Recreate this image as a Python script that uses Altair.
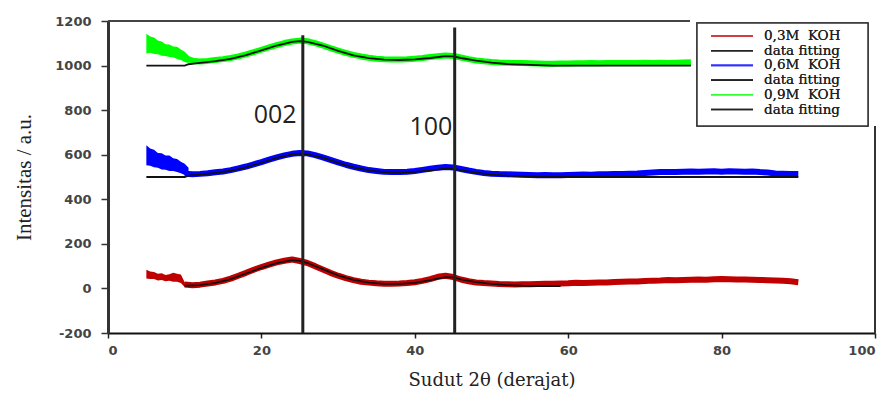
import altair as alt
import pandas as pd

# ---------------- data ----------------
series_names = ["0,3M KOH", "0,6M KOH", "0,9M KOH"]
series_colors = ["#c00000", "#0000ff", "#00ff00"]

# measured patterns (centre of the noisy band), 2theta in degrees
red_x = list(range(10, 91))
red_y = [18, 14, 17, 22, 27, 34, 44, 57, 70, 84, 96, 107, 117, 124, 130, 123, 114, 100, 85, 70,
         57, 46, 37, 30, 26, 23, 21, 21, 22, 24, 28, 34, 42, 52, 57, 51, 40, 32, 27, 24,
         22, 20, 19, 18, 19, 19, 20, 21, 21, 22, 23, 25, 24, 26, 27, 27, 29, 30, 31, 31,
         33, 35, 36, 38, 37, 38, 39, 40, 39, 41, 42, 41, 40, 40, 39, 38, 37, 36, 34, 32, 28]

blue_x = list(range(10, 91))
blue_y = [515, 512, 514, 517, 521, 525, 531, 539, 547, 557, 567, 578, 588, 597, 604, 608, 606, 598, 588, 577,
          566, 555, 546, 538, 531, 527, 523, 522, 522, 524, 527, 532, 537, 542, 545, 543, 536, 529, 523, 518,
          515, 513, 512, 511, 510, 509, 508, 509, 508, 508, 509, 510, 511, 510, 512, 512, 513, 514, 515, 516,
          518, 520, 522, 523, 522, 524, 525, 524, 525, 526, 524, 526, 525, 524, 525, 522, 520, 516, 515, 514, 514]

green_x = list(range(10, 77))
green_y = [1035, 1022, 1018, 1021, 1025, 1029, 1034, 1041, 1050, 1060, 1071, 1082, 1092, 1101, 1108, 1112,
           1109, 1101, 1090, 1078, 1067, 1057, 1048, 1041, 1035, 1031, 1028, 1027, 1027, 1028, 1031, 1034,
           1038, 1042, 1045, 1043, 1036, 1029, 1023, 1019, 1016, 1014, 1013, 1012, 1011, 1010, 1009, 1008,
           1008, 1009, 1009, 1010, 1010, 1011, 1010, 1011, 1012, 1011, 1012, 1012, 1013, 1012, 1013, 1012,
           1013, 1014, 1015]

# wide noisy band at the low-angle start (upper / lower envelope)
start_x = [5, 5.5, 6, 6.5, 7, 7.5, 8, 8.5, 9, 9.5, 10, 10.5]
green_hi = [1143, 1130, 1126, 1112, 1108, 1096, 1095, 1086, 1084, 1072, 1062, 1045]
green_lo = [1054, 1058, 1052, 1051, 1044, 1043, 1038, 1037, 1030, 1025, 1016, 1010]
blue_hi = [643, 628, 622, 608, 607, 597, 596, 584, 581, 568, 560, 542]
blue_lo = [553, 551, 544, 541, 534, 532, 527, 527, 522, 517, 509, 506]
red_hi = [84, 76, 74, 66, 68, 60, 64, 70, 66, 62, 28, 22]
red_lo = [45, 42, 42, 36, 38, 32, 34, 30, 30, 24, 6, 6]

# data fitting curves
fit_gx = [5, 10, 10.5, 12, 14, 16, 18, 20, 22, 24, 25, 26, 28, 30, 32, 34, 36, 38, 40, 42, 44, 45,
          46, 48, 50, 52, 54, 56, 58, 60, 76]
fit_gy = [1000, 1000, 1006, 1012, 1020, 1030, 1047, 1068, 1090, 1106, 1110, 1106, 1090, 1066, 1046,
          1033, 1027, 1025, 1028, 1034, 1042, 1041, 1034, 1022, 1013, 1007, 1004, 1002, 1000, 1000, 1000]
fit_bx = [5, 10, 10.5, 12, 14, 16, 18, 20, 22, 24, 25, 26, 28, 30, 32, 34, 36, 38, 40, 42, 44, 45,
          46, 48, 50, 52, 54, 56, 58, 60, 90]
fit_by = [500, 500, 506, 511, 518, 528, 543, 564, 586, 601, 605, 602, 587, 563, 543, 530, 522, 520,
          523, 530, 538, 538, 531, 519, 511, 506, 503, 501, 500, 500, 500]
fit_rx = [10, 12, 14, 16, 18, 20, 22, 24, 25, 26, 28, 30, 32, 34, 36, 38, 40, 42, 44, 45, 46, 48,
          50, 52, 54, 56, 59]
fit_ry = [12, 15, 25, 42, 67, 92, 114, 127, 124, 114, 87, 59, 38, 26, 20, 20, 25, 37, 51, 50, 41,
          28, 20, 15, 12, 11, 10]

# peak markers
peak_pos = [25.4, 45.2]
peak_top = [1136, 1171]
peak_labels = ["002", "100"]
label_x = [21.8, 42.1]
label_y = [742, 688]

NB = "\u00a0"
legend_labels = ["0,3M" + NB + NB + "KOH", "data fitting", "0,6M" + NB + NB + "KOH", "data fitting",
                 "0,9M" + NB + NB + "KOH", "data fitting"]
legend_colors = ["#d03030", "#222222", "#3030ff", "#222222", "#30ff30", "#222222"]

# ---------------- tables ----------------
main_df = pd.concat([
    pd.DataFrame({"x": red_x, "y": red_y, "s": series_names[0]}),
    pd.DataFrame({"x": blue_x, "y": blue_y, "s": series_names[1]}),
    pd.DataFrame({"x": green_x, "y": green_y, "s": series_names[2]}),
])
start_df = pd.concat([
    pd.DataFrame({"x": start_x, "lo": red_lo, "hi": red_hi, "s": series_names[0]}),
    pd.DataFrame({"x": start_x, "lo": blue_lo, "hi": blue_hi, "s": series_names[1]}),
    pd.DataFrame({"x": start_x, "lo": green_lo, "hi": green_hi, "s": series_names[2]}),
])
fit_df = pd.concat([
    pd.DataFrame({"x": fit_rx, "y": fit_ry, "s": "r"}),
    pd.DataFrame({"x": fit_bx, "y": fit_by, "s": "b"}),
    pd.DataFrame({"x": fit_gx, "y": fit_gy, "s": "g"}),
])
peak_df = pd.DataFrame({"x": peak_pos, "top": peak_top, "bottom": [-200, -200]})
lab_df = pd.DataFrame({"x": label_x, "y": label_y, "t": peak_labels})

W, H = 767, 312

x_axis = alt.Axis(values=[0, 20, 40, 60, 80, 100], tickSize=5, tickWidth=1.5, tickColor="#222",
                  domainColor="#111", domainWidth=2, labelFont="DejaVu Sans", labelFontWeight="bold",
                  labelFontSize=13, labelColor="#444", labelPadding=6, grid=False,
                  labelExpr="'' + datum.value",
                  title="Sudut 2θ (derajat)", titleFont="DejaVu Serif", titleFontSize=18,
                  titleFontWeight="normal", titleColor="#222", titlePadding=14)
y_axis = alt.Axis(values=[-200, 0, 200, 400, 600, 800, 1000, 1200], tickSize=7, tickWidth=1.5,
                  tickColor="#333", domainColor="#333", domainWidth=3, labelFont="DejaVu Sans",
                  labelFontWeight="bold", labelFontSize=13, labelColor="#444", labelPadding=10,
                  labelExpr="'' + datum.value",
                  grid=False, title="Intensitas / a.u.", titleFont="Liberation Serif",
                  titleFontSize=21, titleFontWeight="normal", titleColor="#222", titlePadding=20)
xs = alt.Scale(domain=[0, 100], nice=False)
ys = alt.Scale(domain=[-200, 1200], nice=False)


def X(f):
    return alt.X(f + ":Q", scale=xs, axis=x_axis)


def Y(f):
    return alt.Y(f + ":Q", scale=ys, axis=y_axis)


color = alt.Color("s:N", scale=alt.Scale(domain=series_names, range=series_colors), legend=None)

start_layer = alt.Chart(start_df).mark_area(opacity=1).encode(x=X("x"), y=Y("lo"), y2="hi", color=color)
main_layer = alt.Chart(main_df).mark_line(strokeWidth=6, strokeJoin="round").encode(
    x=X("x"), y=Y("y"), color=color)
fit_layer = alt.Chart(fit_df).mark_line(strokeWidth=1.8, color="#111").encode(
    x=X("x"), y=Y("y"), detail="s:N")
peak_layer = alt.Chart(peak_df).mark_rule(strokeWidth=3, color="#222").encode(
    x=X("x"), y=Y("top"), y2="bottom")
lab_layer = alt.Chart(lab_df).mark_text(font="Open Sans", fontSize=25, color="#222",
                                        baseline="alphabetic", align="center").encode(
    x=X("x"), y=Y("y"), text="t:N")

frame_top = alt.Chart(peak_df).mark_rule(color="#444", strokeWidth=2).encode(
    x=alt.value(0), x2=alt.value(582), y=alt.value(0))
frame_right = alt.Chart(peak_df).mark_rule(color="#333", strokeWidth=2).encode(
    x=alt.value(W), y=alt.value(105), y2=alt.value(H))

leg_box = alt.Chart(peak_df).mark_rect(fill="white", stroke="#333", strokeWidth=1.5).encode(
    x=alt.value(589), x2=alt.value(760), y=alt.value(2), y2=alt.value(105))

layers = [start_layer, main_layer, fit_layer, peak_layer, lab_layer, frame_top, frame_right, leg_box]
for i, (lab, col) in enumerate(zip(legend_labels, legend_colors)):
    ry = 15 + i * 14.7
    layers.append(alt.Chart(peak_df).mark_rule(color=col, strokeWidth=1.6).encode(
        x=alt.value(603), x2=alt.value(645), y=alt.value(ry)))
    layers.append(alt.Chart(peak_df).mark_text(font="DejaVu Serif", fontSize=13.5, color="#222",
                                               align="left", baseline="middle").encode(
        x=alt.value(656), y=alt.value(ry), text=alt.value(lab)))

chart = alt.layer(*layers).properties(
    width=W, height=H,
    autosize=alt.AutoSizeParams(type="none"),
    padding={"left": 100, "top": 13, "right": 4, "bottom": 60},
).configure_view(strokeWidth=0)

chart.save("out.html", embed_options={"renderer": "svg", "actions": False})
